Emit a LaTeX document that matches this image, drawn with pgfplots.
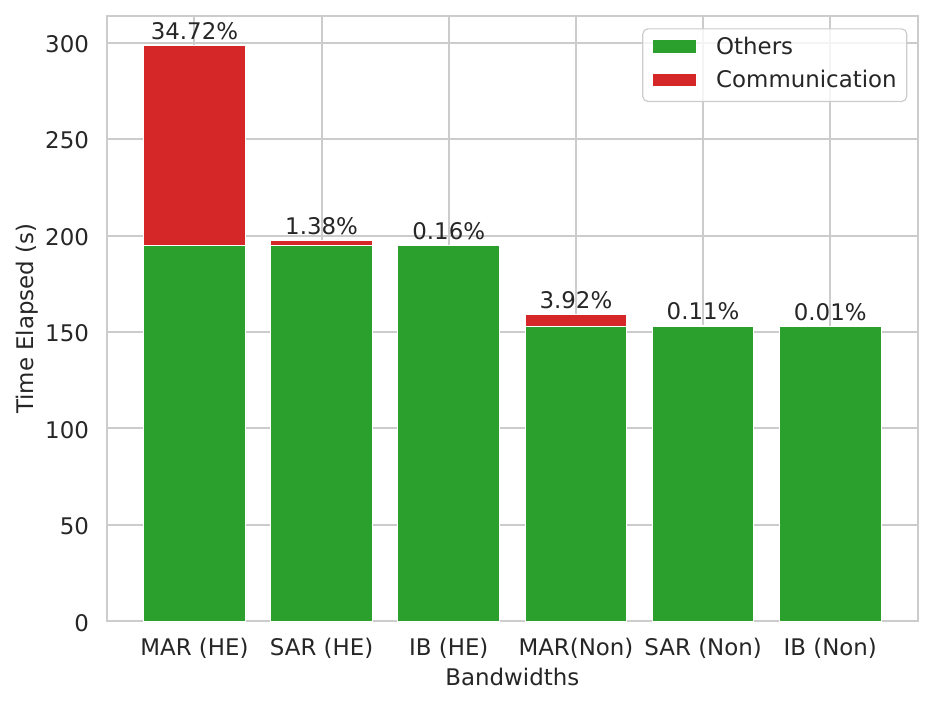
\documentclass[border=0pt]{standalone}
\usepackage{pgfplots}
\pgfplotsset{compat=1.18}
\usepackage{fontspec}
\setmainfont{DejaVu Sans}
\definecolor{tgreen}{HTML}{2CA02C}
\definecolor{tred}{HTML}{D62728}
\definecolor{txt}{HTML}{262626}
\definecolor{gridc}{HTML}{CCCCCC}
\begin{document}
\fontsize{11.45pt}{13.7pt}\selectfont
\begin{tikzpicture}
\path (-53.35pt,-42.85pt) rectangle (414.15pt,310.65pt);
\begin{axis}[
  at={(0,0)}, anchor=south west,
  scale only axis, width=405.65pt, height=302.65pt,
  xmin=-0.69, xmax=5.69, ymin=0, ymax=313.8,
  ybar stacked, bar width=0.8,
  xtick={0,1,2,3,4,5},
  xticklabels={MAR (HE), SAR (HE), IB (HE), MAR(Non), SAR (Non), IB (Non)},
  ytick={0,50,100,150,200,250,300},
  major tick length=0pt,
  grid=major,
  major grid style={gridc, line width=1pt},
  axis line style={gridc, line width=1.1pt},
  tick label style={text=txt},
  /pgf/number format/assume math mode=true,
  xticklabel style={anchor=base, inner sep=0pt, yshift=-16.85pt},
  yticklabel style={anchor=east, inner sep=0pt, xshift=-8.7pt, yshift=-0.75pt},
  xlabel={Bandwidths}, ylabel={Time Elapsed (s)},
  xlabel style={at={(axis description cs:0.5,-0.1064)}, anchor=base, text=txt, inner sep=0pt},
  ylabel style={at={(axis description cs:-0.0905,0.5)}, anchor=base, text=txt, inner sep=0pt},
  legend style={at={(axis description cs:1,1)}, anchor=north east, xshift=-5.35pt, yshift=-6.15pt,
    draw=gridc, line width=0.6pt, rounded corners=2.5pt, fill=white, fill opacity=0.8, text opacity=1,
    inner xsep=5pt, inner ysep=4.1pt, row sep=5.25pt, column sep=10pt,
    nodes={inner sep=0pt, text height=8.7pt, text depth=2.7pt, text=txt}},
  legend cell align=left,
  legend image code/.code={\fill[#1, draw=none, sharp corners, fill opacity=1] (0pt,-2.3pt) rectangle (21.7pt,4.0pt);},
  every node near coord/.append style={anchor=base, yshift=3pt, inner sep=0pt, text=txt},
]
\addplot[fill=tgreen, draw=white, line width=0.5pt] coordinates {(0,194.7) (1,194.7) (2,194.7) (3,153.0) (4,153.0) (5,153.0)};
\addplot[fill=tred, draw=white, line width=0.5pt] coordinates {(0,103.6) (1,2.73) (2,0.31) (3,6.24) (4,0.17) (5,0.015)};
\addplot[draw=none, fill=none, point meta=explicit symbolic, nodes near coords]
  coordinates {(0,0.001) [34.72\%] (1,0.001) [1.38\%] (2,0.001) [0.16\%] (3,0.001) [3.92\%] (4,0.001) [0.11\%] (5,0.001) [0.01\%]};
\legend{Others, Communication}
\end{axis}
\end{tikzpicture}
\end{document}
